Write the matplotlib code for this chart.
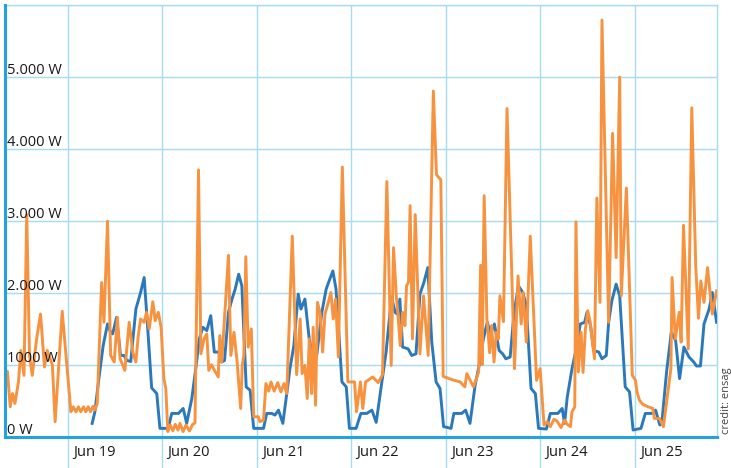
import pandas as pd
import matplotlib
matplotlib.use("Agg")
import matplotlib.pyplot as plt
from matplotlib.transforms import offset_copy, blended_transform_factory

# hours counted from midnight Jun 18, power in watts
start = pd.Timestamp("2017-06-18")

orange_hours = [
    8.1, 8.7, 9.4, 10.0, 10.6, 11.5, 12.1, 12.9, 13.6, 14.3, 15.0, 16.1, 17.1, 18.1, 18.8,
    20.1, 20.8, 22.6, 24.8, 25.4, 26.1, 26.7, 27.3, 28.0, 28.6, 29.2, 29.8, 30.4, 30.9, 31.5,
    32.6, 33.2, 34.1, 34.9, 35.8, 36.6, 37.3, 38.5, 39.6, 40.5, 41.3, 41.9, 42.5, 43.4, 44.0,
    44.7, 45.6, 46.2, 47.0, 47.7, 48.4, 48.9, 49.4, 50.0, 50.7, 51.3, 52.0, 52.5, 53.3, 54.0,
    54.9, 55.7, 56.3, 57.2, 57.8, 58.6, 59.3, 59.8, 60.5, 61.4, 62.2, 62.6, 63.1, 64.8, 65.4,
    66.2, 67.0, 67.9, 68.3, 68.7, 69.2, 69.8, 70.6, 71.2, 72.4, 72.8, 73.7, 74.3, 75.0, 75.6,
    76.4, 77.3, 78.1, 78.9, 79.6, 81.0, 82.1, 83.0, 83.5, 84.2, 84.8, 85.3, 85.9, 86.3, 86.9,
    87.4, 88.1, 88.7, 89.3, 89.9, 90.8, 91.4, 92.0, 92.7, 93.7, 95.1, 96.1, 96.8, 97.3, 98.3,
    98.9, 99.6, 101.4, 102.8, 103.9, 105.0, 106.1, 106.7, 107.4, 107.7, 108.4, 109.0, 109.6,
    110.0, 110.5, 110.9, 111.5, 112.2, 113.4, 114.3, 115.5, 116.8, 117.6, 118.7, 119.3, 121.5,
    123.6, 124.8, 125.3, 127.0, 128.3, 128.8, 129.2, 129.7, 130.4, 131.1, 131.6, 132.2, 132.8,
    133.3, 133.7, 134.6, 135.5, 137.4, 138.3, 139.1, 139.6, 140.4, 141.4, 143.0, 143.9, 144.9,
    145.7, 146.5, 147.4, 148.2, 149.2, 150.1, 150.8, 151.6, 152.0, 152.7, 153.0, 153.6, 154.3,
    154.8, 155.4, 156.0, 156.6, 157.7, 158.3, 159.1, 159.6, 161.3, 162.3, 163.2, 164.1, 164.5,
    165.8, 167.3, 168.1, 168.5, 169.1, 170.0, 171.3, 172.5, 172.9, 174.2, 175.2, 177.1, 177.4,
    178.2, 179.2, 179.7, 180.3, 181.5, 182.4, 183.4, 184.1, 184.7, 185.5, 186.4, 187.6, 188.7,
]
orange_watts = [
    859, 914, 423, 607, 469, 768, 1204, 859, 3089, 1135, 859, 1365, 1710, 975, 1204,
    1007, 216, 1747, 354, 423, 354, 423, 354, 423, 354, 423, 354, 430, 380, 470,
    2147, 1595, 2997, 1135, 1044, 1664, 1089, 928, 1595, 1182, 1044, 1411, 1641, 1595, 1733,
    1503, 1880, 1618, 1733, 1526, 814, 676, 79, 170, 90, 180, 100, 193, 79, 170,
    87, 179, 200, 3710, 1158, 1365, 1434, 928, 1007, 914, 837, 1411, 1044, 2524, 1135,
    1457, 1044, 400, 997, 1135, 2505, 1251, 1503, 285, 285, 216, 239, 745, 640, 768,
    640, 758, 630, 745, 607, 2790, 869, 1641, 883, 997, 538, 1365, 607, 1526, 445,
    1871, 1710, 1182, 1710, 1825, 2009, 1641, 1917, 1113, 3747, 768, 768, 768, 354, 768,
    400, 768, 837, 758, 869, 3548, 997, 2630, 1962, 1779, 1273, 1733, 1549,
    2100, 2155, 3213, 1365, 3089, 1158, 1962, 1135, 4803, 3641, 3572, 845, 800,
    768, 699, 883, 699, 906, 2386, 1007, 3351, 1641, 1172, 1550, 1044, 1457,
    1365, 1962, 1604, 4560, 952, 2238, 1572, 2009, 1320, 2790, 790, 952, 170,
    216, 148, 250, 225, 134, 239, 179, 148, 354, 423, 2988, 906, 1457,
    900, 1500, 1756, 1600, 1089, 3319, 1871, 5788, 1595, 4216, 2492, 4996, 1962,
    3457, 859, 790, 630, 515, 455, 423, 400, 262, 262, 148, 952, 2216,
    1365, 1733, 1320, 2941, 1227, 4569, 2376, 1651, 2169, 1871, 2354, 1710, 2031,
]

blue_hours = [
    30.2, 30.9, 31.8, 33.0, 34.1, 34.7, 35.4, 36.4, 37.4, 38.3, 39.0, 40.0, 41.3, 42.5, 43.4,
    44.2, 45.3, 46.6, 47.4, 48.4, 49.5, 50.4, 52.1, 53.3, 54.2, 55.5, 56.6, 57.4, 58.3, 59.3,
    60.3, 61.2, 62.3, 63.1, 63.8, 64.8, 65.7, 66.5, 67.4, 68.2, 69.3, 70.3, 71.2, 72.4, 73.7,
    74.5, 75.8, 76.6, 77.5, 78.6, 79.6, 80.4, 81.4, 82.5, 83.2, 84.2, 85.3, 86.2, 87.2, 88.5,
    89.6, 90.2, 91.3, 92.1, 93.6, 94.7, 95.5, 97.2, 98.4, 99.9, 101.2, 102.3, 103.5, 104.8,
    106.2, 107.1, 107.6, 108.3, 109.0, 110.4, 111.3, 112.4, 113.4, 114.4, 115.4, 116.4, 117.5,
    118.5, 119.4, 121.3, 122.0, 124.0, 125.0, 126.1, 127.4, 128.5, 129.5, 130.5, 131.3, 132.3,
    133.5, 134.4, 135.2, 136.3, 137.3, 138.4, 139.5, 140.4, 141.6, 142.7, 143.5, 145.5, 146.5,
    148.4, 149.5, 150.1, 150.8, 152.0, 152.9, 154.1, 155.2, 155.8, 156.7, 157.5, 158.8, 159.6,
    160.7, 161.3, 162.1, 163.2, 164.1, 165.5, 166.6, 167.5, 169.5, 170.6, 172.3, 173.2, 174.3,
    174.9, 176.0, 177.2, 178.3, 179.3, 180.4, 181.7, 182.9, 183.6, 184.6, 185.5, 186.8, 187.6,
    188.7,
]
blue_watts = [
    193, 354, 768, 1273, 1572, 1480, 1434, 1664, 1135, 1135, 1066, 1052, 1779, 2009, 2216,
    1595, 685, 607, 124, 124, 124, 331, 331, 400, 193, 538, 997, 1365, 1526, 1480,
    1687, 1182, 1182, 1044, 1066, 1733, 1917, 2055, 2262, 2100, 699, 652, 124, 124, 124,
    331, 331, 308, 377, 193, 607, 952, 1273, 1986, 1779, 1917, 1365, 1135, 1135, 1733,
    2055, 2147, 2307, 2055, 768, 699, 124, 124, 331, 331, 377, 207, 676, 1182,
    1940, 1733, 1710, 1917, 1251, 1227, 1135, 1158, 1986, 2147, 2354, 1320, 768,
    676, 148, 124, 331, 331, 377, 193, 721, 1020, 1365, 1595, 1434, 1572,
    1204, 1158, 1089, 1113, 1733, 2100, 2009, 1825, 676, 607, 124, 115, 331,
    331, 400, 193, 561, 952, 1182, 1572, 1595, 1733, 1549, 1204, 1182, 1089,
    1135, 1595, 1893, 2124, 1962, 699, 630, 101, 124, 331, 331, 377, 170,
    262, 906, 1457, 1342, 814, 1251, 1113, 1044, 989, 989, 1572, 1779, 2009,
    1595,
]

y_ticks = [0, 1000, 2000, 3000, 4000, 5000]
y_labels = ["0 W", "1000 W", "2.000 W", "3.000 W", "4.000 W", "5.000 W"]
day_ticks = pd.date_range("2017-06-19", "2017-06-25", freq="D")
day_labels = [d.strftime("%b %d") for d in day_ticks]

grid_color = "#a6dcf1"
axis_color = "#22a3df"
blue = "#2b78bb"
orange = "#f7923f"
text_color = "#1a1718"
font = ["Open Sans", "DejaVu Sans"]

orange_t = start + pd.to_timedelta(orange_hours, unit="h")
blue_t = start + pd.to_timedelta(blue_hours, unit="h")

fig = plt.figure(figsize=(7.31, 4.68), dpi=100)
ax = fig.add_axes([5 / 731, 30.7 / 468, 712 / 731, 432.6 / 468])

ax.plot(blue_t, blue_watts, color=blue, lw=2.1, zorder=3)
ax.plot(orange_t, orange_watts, color=orange, lw=2.1, zorder=4)

ax.set_xlim(start + pd.Timedelta(hours=8.08), start + pd.Timedelta(hours=188.8))
ax.set_ylim(0, 6000)

ax.set_yticks([1000, 2000, 3000, 4000, 5000, 6000])
ax.set_xticks(day_ticks)
ax.tick_params(axis="y", length=0, labelleft=False)
ax.tick_params(axis="x", length=26, width=1, color=grid_color, direction="out",
               labelbottom=False)
ax.grid(True, color=grid_color, lw=1.0, zorder=0)

for side in ("left", "bottom"):
    ax.spines[side].set_color(axis_color)
    ax.spines[side].set_linewidth(2.2)
    ax.spines[side].set_zorder(5)
for side in ("top", "right"):
    ax.spines[side].set_color(grid_color)
    ax.spines[side].set_linewidth(1.0)

# y labels sit inside the plot, just above their gridline
ytrans = offset_copy(blended_transform_factory(ax.transAxes, ax.transData),
                     fig=fig, x=2, y=3, units="dots")
for v, lbl in zip(y_ticks, y_labels):
    ax.text(0, v, lbl, transform=ytrans, ha="left", va="baseline",
            fontsize=10.5, color=text_color, family=font, zorder=6)

# day labels to the right of each tick line
xtrans = offset_copy(ax.get_xaxis_transform(), fig=fig, x=5, y=-15, units="dots")
for d, lbl in zip(day_ticks, day_labels):
    ax.text(d, 0, lbl, transform=xtrans, ha="left", va="center",
            fontsize=10.5, color=text_color, family=font)

fig.text(726 / 731, 1 - 401 / 468, "credit: ensag", rotation=90, ha="center",
         va="center", fontsize=8, color="#444444", family=font)

fig.savefig("out.png", dpi=100)
